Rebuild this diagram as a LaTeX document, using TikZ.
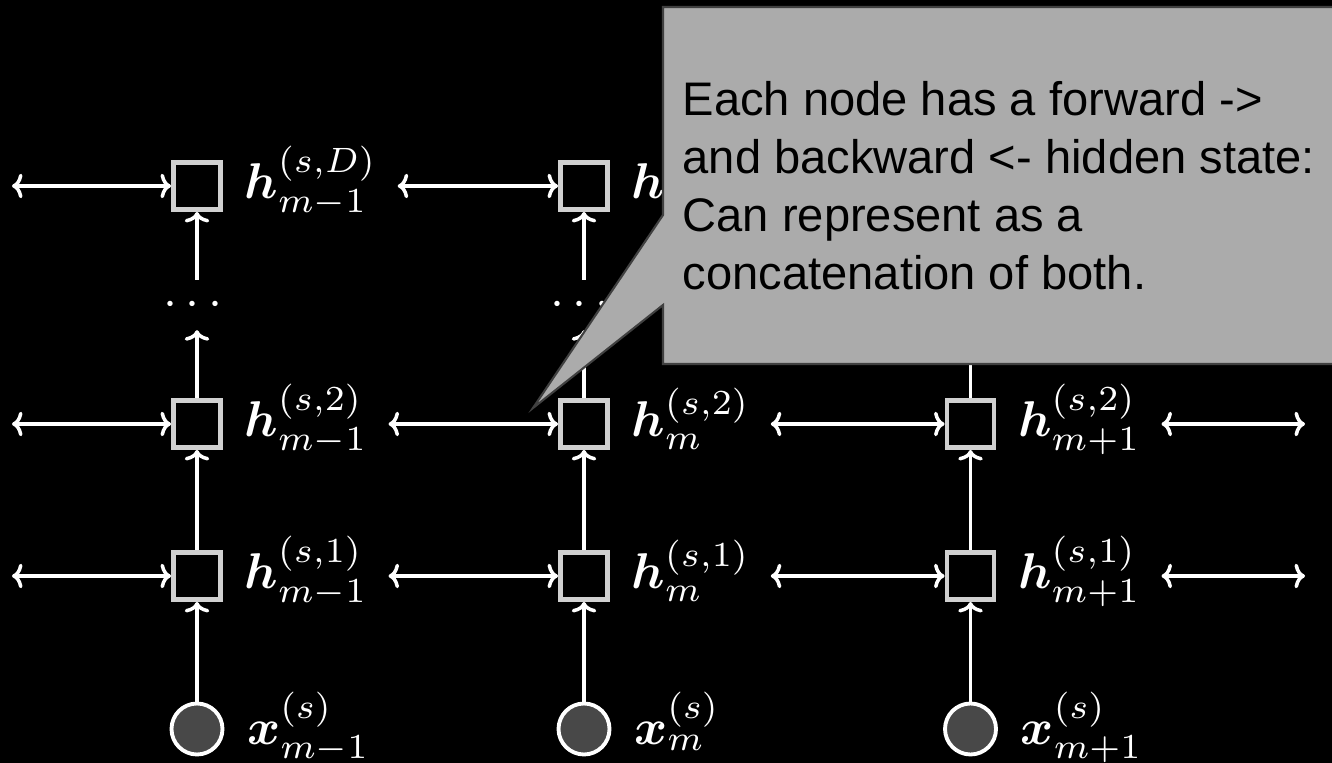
\documentclass[tikz,border=0pt]{standalone}
\usepackage{amsmath,amssymb,xcolor,graphicx}
\usepackage{fontspec}
\newfontfamily\notefont{Liberation Sans}
\definecolor{sqgray}{RGB}{208,208,208}
\definecolor{xgray}{RGB}{72,72,72}
\definecolor{notegray}{RGB}{171,171,171}
\definecolor{noteedge}{RGB}{64,64,64}
\newcommand{\statelab}[1]{\scalebox{1.43}{$#1$}}
\usetikzlibrary{arrows.meta,positioning,calc}

\begin{document}
\begin{tikzpicture}[
  hstate/.style={draw=sqgray,line width=1.4pt,fill=black,minimum size=0.47cm,inner sep=0pt},
  xin/.style={circle,draw=white,line width=1.1pt,fill=xgray,minimum size=0.51cm,inner sep=0pt},
  lbl/.style={text=white,inner sep=0pt,anchor=base west},
  dotsnode/.style={text=white,inner sep=0pt,minimum height=0.49cm},
  uparr/.style={draw=white,line width=1pt,-{Computer Modern Rightarrow[length=3pt,width=7pt]}},
  biarr/.style={draw=white,line width=1pt,shorten <=2mm,
                {Computer Modern Rightarrow[length=3pt,width=7pt]}-{Computer Modern Rightarrow[length=3pt,width=7pt]}},
  notetext/.style={text=black,inner sep=0pt,align=left,anchor=north west,
                   font={\notefont\fontsize{13.4}{16.5}\selectfont}},
]
  \useasboundingbox (0,0) rectangle (13.32,7.63);
  \fill[black] (0,0) rectangle (13.32,7.63);

  % Column m-1
  \node[xin] (x1) at (1.97,0.34) {};
  \node[hstate] (h11) at (1.97,1.87) {};
  \node[hstate] (h12) at (1.97,3.39) {};
  \node[dotsnode] (d1) at (1.97,4.58) {\statelab{\cdots}};
  \node[hstate] (h1D) at (1.97,5.77) {};
  \node[lbl] (lx1) at ([xshift=2.2mm,yshift=-1.6mm]x1.east) {\statelab{\boldsymbol{x}^{(s)}_{m-1}}};
  \node[lbl] (l11) at ([xshift=2.1mm,yshift=-1.3mm]h11.east) {\statelab{\boldsymbol{h}^{(s,1)}_{m-1}}};
  \node[lbl] (l12) at ([xshift=2.1mm,yshift=-1.3mm]h12.east) {\statelab{\boldsymbol{h}^{(s,2)}_{m-1}}};
  \node[lbl] (l1D) at ([xshift=2.1mm,yshift=-1.3mm]h1D.east) {\statelab{\boldsymbol{h}^{(s,D)}_{m-1}}};

  % Column m
  \node[xin] (x2) at (5.84,0.34) {};
  \node[hstate] (h21) at (5.84,1.87) {};
  \node[hstate] (h22) at (5.84,3.39) {};
  \node[dotsnode] (d2) at (5.84,4.58) {\statelab{\cdots}};
  \node[hstate] (h2D) at (5.84,5.77) {};
  \node[lbl] (lx2) at ([xshift=2.2mm,yshift=-1.6mm]x2.east) {\statelab{\boldsymbol{x}^{(s)}_{m}}};
  \node[lbl] (l21) at ([xshift=2.1mm,yshift=-1.3mm]h21.east) {\statelab{\boldsymbol{h}^{(s,1)}_{m}}};
  \node[lbl] (l22) at ([xshift=2.1mm,yshift=-1.3mm]h22.east) {\statelab{\boldsymbol{h}^{(s,2)}_{m}}};
  \node[lbl] (l2D) at ([xshift=2.1mm,yshift=-1.3mm]h2D.east) {\statelab{\boldsymbol{h}^{(s,D)}_{m}}};

  % Column m+1 (its top runs under the note)
  \node[xin] (x3) at (9.705,0.34) {};
  \node[hstate] (h31) at (9.705,1.87) {};
  \node[hstate] (h32) at (9.705,3.39) {};
  \node[lbl] (lx3) at ([xshift=2.2mm,yshift=-1.6mm]x3.east) {\statelab{\boldsymbol{x}^{(s)}_{m+1}}};
  \node[lbl] (l31) at ([xshift=2.1mm,yshift=-1.3mm]h31.east) {\statelab{\boldsymbol{h}^{(s,1)}_{m+1}}};
  \node[lbl] (l32) at ([xshift=2.1mm,yshift=-1.3mm]h32.east) {\statelab{\boldsymbol{h}^{(s,2)}_{m+1}}};
  \coordinate (t3) at (9.705,4.30);

  % free ends of the rows
  \coordinate (w1) at (0.12,1.87);
  \coordinate (w2) at (0.12,3.39);
  \coordinate (wD) at (0.12,5.77);
  \coordinate (e1) at (13.05,1.87);
  \coordinate (e2) at (13.05,3.39);

  % Layers going up
  \draw[uparr] (x1) -- (h11);
  \draw[uparr] (h11) -- (h12);
  \draw[uparr] (h12) -- (d1);
  \draw[uparr] (d1) -- (h1D);
  \draw[uparr] (x2) -- (h21);
  \draw[uparr] (h21) -- (h22);
  \draw[uparr] (h22) -- (d2);
  \draw[uparr] (d2) -- (h2D);
  \draw[uparr] (x3) -- (h31);
  \draw[uparr] (h31) -- (h32);
  \draw[white,line width=1pt] (h32) -- (t3);

  % Forward and backward links
  \draw[biarr,shorten <=0pt] (w1) -- (h11);
  \draw[biarr] (l11.east |- h21) -- (h21);
  \draw[biarr] (l21.east |- h31) -- (h31);
  \draw[biarr] (l31.east |- e1) -- (e1);
  \draw[biarr,shorten <=0pt] (w2) -- (h12);
  \draw[biarr] (l12.east |- h22) -- (h22);
  \draw[biarr] (l22.east |- h32) -- (h32);
  \draw[biarr] (l32.east |- e2) -- (e2);
  \draw[biarr,shorten <=0pt] (wD) -- (h1D);
  \draw[biarr] (l1D.east |- h2D) -- (h2D);

  % Note
  \filldraw[fill=notegray,draw=noteedge,line width=0.6pt]
    (6.63,7.56) -- (13.40,7.56) -- (13.40,3.99) -- (6.63,3.99)
    -- (6.63,4.58) -- (5.33,3.55) -- (6.63,5.48) -- cycle;
  \node[notetext] (note) at (6.82,6.82) {Each node has a forward ->\\and backward <- hidden state:\\Can represent as a\\concatenation of both.};
\end{tikzpicture}
\end{document}
